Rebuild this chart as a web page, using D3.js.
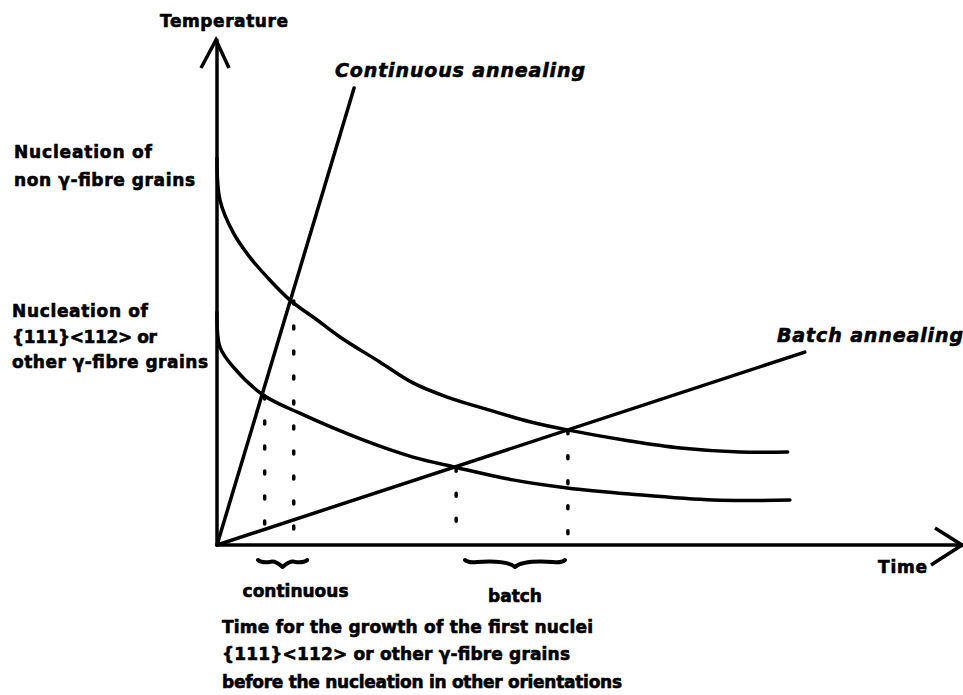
<!DOCTYPE html>
<html>
<head>
<meta charset="utf-8">
<script src="https://cdn.jsdelivr.net/npm/d3@7.9.0/dist/d3.min.js"></script>
<style>
  body { margin: 0; background: #fff; }
  svg text { font-family: "DejaVu Sans", sans-serif; font-weight: bold; fill: #000; stroke: #000; stroke-width: 0.6px; }
</style>
</head>
<body>
<svg id="chart" width="963" height="695"></svg>
<script>
// nucleation curves (arbitrary time / temperature units)
const upperTime = [0, 0.4, 2.2, 4.4, 6.7, 9.8, 13.4, 16.5, 21.9, 26.3, 30.9, 36.6, 42.0, 47.0, 55.4, 62.2, 70.2, 76.6];
const upperTemp = [76.6, 68.3, 61.8, 57.0, 53.1, 48.5, 44.6, 41.2, 36.2, 32.1, 29.3, 26.7, 24.4, 22.8, 20.6, 19.2, 18.4, 18.4];
const lowerTime = [0, 0.4, 2.2, 6.2, 11.1, 19.6, 26.3, 32.0, 39.7, 47.0, 55.4, 66.6, 76.9];
const lowerTemp = [46.1, 39.2, 35.2, 29.7, 26.1, 20.8, 17.4, 15.4, 12.9, 11.3, 10.1, 8.9, 8.9];

// heating lines
const continuousTime = [0, 18.4];
const continuousTemp = [0, 90.5];
const batchTime = [0, 78.9];
const batchTemp = [0, 38.2];

// crossings dropped to the time axis
const crossTime = [6.4, 10.3, 32.1, 47.1];
const crossTemp = [29.7, 48.5, 15.4, 22.8];

// growth windows
const braceStart = [5.5, 33.3];
const braceEnd = [12.1, 46.7];
const braceLabels = ['continuous', 'batch'];

const svg = d3.select('#chart');
const x = d3.scaleLinear().domain([0, 100]).range([217, 962]);
const y = d3.scaleLinear().domain([0, 100]).range([545, 40]);

const line = d3.line().x(d => x(d[0])).y(d => y(d[1]));
const curve = d3.line().x(d => x(d[0])).y(d => y(d[1])).curve(d3.curveCatmullRom.alpha(0.5));

function drawPath(d, gen) {
  svg.append('path')
    .attr('d', gen(d))
    .attr('fill', 'none')
    .attr('stroke', '#000')
    .attr('stroke-width', 3.5)
    .attr('stroke-linecap', 'round');
}

// axes
drawPath([[0, 0], [0, 100]], line);
drawPath([[0, 0], [100, 0]], line);
svg.append('path')
  .attr('d', `M${x(0) - 16},${y(100) + 28} L${x(0) - 1},${y(100)} L${x(0) + 12},${y(100) + 28}`)
  .attr('fill', 'none').attr('stroke', '#000').attr('stroke-width', 3.5);
svg.append('path')
  .attr('d', `M${x(100) - 27},${y(0) - 17} L${x(100)},${y(0)} L${x(100) - 31},${y(0) + 20}`)
  .attr('fill', 'none').attr('stroke', '#000').attr('stroke-width', 3.5);

drawPath(d3.zip(upperTime, upperTemp), curve);
drawPath(d3.zip(lowerTime, lowerTemp), curve);
drawPath(d3.zip(continuousTime, continuousTemp), line);
drawPath(d3.zip(batchTime, batchTemp), line);

// dotted drops
crossTime.forEach((t, i) => {
  svg.append('line')
    .attr('x1', x(t)).attr('x2', x(t))
    .attr('y1', y(crossTemp[i])).attr('y2', y(0) - 10)
    .attr('stroke', '#000')
    .attr('stroke-width', 3.5)
    .attr('stroke-linecap', 'round')
    .attr('stroke-dasharray', '3 22')
    .attr('stroke-dashoffset', -26);
});

// braces under the axis
braceStart.forEach((t0, i) => {
  const x0 = x(t0), x1 = x(braceEnd[i]), m = (x0 + x1) / 2, b = 562;
  svg.append('path')
    .attr('d', `M${x0},${b - 2} Q${x0 + 3},${b + 1} ${x0 + 12},${b} Q${m - 8},${b - 2} ${m},${b + 5} Q${m + 8},${b - 2} ${x1 - 12},${b} Q${x1 - 3},${b + 1} ${x1},${b - 2}`)
    .attr('fill', 'none').attr('stroke', '#000').attr('stroke-width', 4)
    .attr('stroke-linecap', 'round').attr('stroke-linejoin', 'round');
  svg.append('text')
    .attr('x', m + (i === 0 ? 13 : 0))
    .attr('y', i === 0 ? 597 : 602)
    .attr('text-anchor', 'middle')
    .attr('font-size', 17)
    .text(braceLabels[i]);
});

function label(txt, px, py, size, width, italic) {
  svg.append('text')
    .attr('x', px).attr('y', py)
    .attr('font-size', size)
    .attr('font-style', italic ? 'italic' : 'normal')
    .attr('textLength', width)
    .attr('lengthAdjust', 'spacing')
    .text(txt);
}

label('Temperature', 160, 27, 17, 128);
label('Continuous annealing', 335, 77, 19, 250, true);
label('Batch annealing', 777, 342, 19, 186, true);
label('Time', 878, 573, 17, 49);
label('Nucleation of', 14, 158, 17, 138);
label('non γ-fibre grains', 14, 186, 17, 181);
label('Nucleation of', 12, 317, 17, 136);
label('{111}<112> or', 12, 343, 17, 145);
label('other γ-fibre grains', 12, 368, 17, 196);
label('Time for the growth of the first nuclei', 222, 633, 17, 371);
label('{111}<112> or other γ-fibre grains', 222, 660, 17, 348);
label('before the nucleation in other orientations', 222, 688, 17, 400);
</script>
</body>
</html>
